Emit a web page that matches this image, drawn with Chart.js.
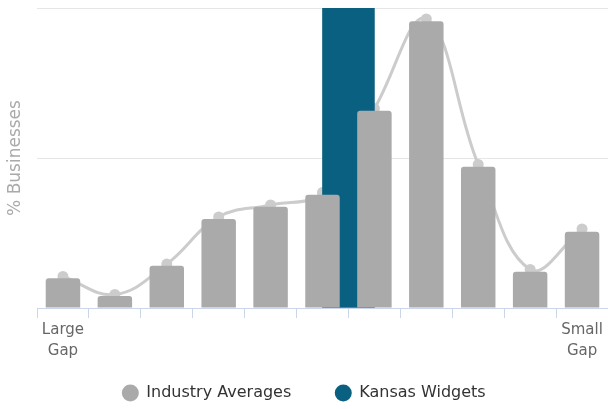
<!DOCTYPE html>
<html>
<head>
<meta charset="utf-8">
<script src="https://cdn.jsdelivr.net/npm/chart.js@4/dist/chart.umd.min.js"></script>
<style>
  html, body { margin: 0; padding: 0; background: #fff; }
  #wrap { width: 608px; height: 409px; }
</style>
</head>
<body>
<div id="wrap"><canvas id="myChart"></canvas></div>
<script>
// categories run from a large gap to a small gap
var gapLabels = [["Large", "Gap"], "", "", "", "", "", "", "", "", "", ["Small", "Gap"]];
var industryBars = [1.98, 0.80, 2.82, 5.93, 6.75, 7.55, 13.15, 19.11, 9.42, 2.42, 5.09];
var industryCurve = [2.1, 0.9, 2.93, 6.07, 6.87, 7.7, 13.3, 19.27, 9.57, 2.57, 5.27];
// kansas sits on a category boundary (slot 6 of the 12 boundaries)
var kansasWidgets = [null, null, null, null, null, null, 20, null, null, null, null, null];
var yMax = 20;
var yStep = 10;

// hidden axis whose slots are the category boundaries
var boundarySlots = kansasWidgets.map(function () { return ""; });

Chart.defaults.font.family = "'DejaVu Sans', Verdana, sans-serif";
Chart.defaults.animation = false;

// legend needs wide gaps between items but must sit close under the axis
var legendLift = 23;
var liftLegend = {
    id: "liftLegend",
    afterLayout: function (chart) {
        chart.legend.top -= legendLift;
        chart.legend.bottom -= legendLift;
    }
};

var ctx = document.getElementById("myChart").getContext("2d");
var chart = new Chart(ctx, {
    type: "bar",
    data: {
        labels: gapLabels,
        datasets: [
            {
                label: "Industry Averages",
                data: industryBars,
                backgroundColor: "#aaaaaa",
                borderRadius: 3,
                borderSkipped: "bottom",
                grouped: false,
                categoryPercentage: 0.8,
                barPercentage: 0.83,
                xAxisID: "x",
                order: 1
            },
            {
                label: "Kansas Widgets",
                data: kansasWidgets,
                backgroundColor: "#0a6080",
                grouped: false,
                categoryPercentage: 1,
                barPercentage: 1,
                xAxisID: "x2",
                order: 2
            },
            {
                type: "line",
                label: "curve",
                data: industryCurve,
                borderColor: "#cccccc",
                borderWidth: 3,
                backgroundColor: "#cccccc",
                pointRadius: 5.5,
                pointBorderWidth: 0,
                tension: 0.4,
                xAxisID: "x",
                order: 3
            }
        ]
    },
    plugins: [liftLegend],
    options: {
        responsive: true,
        maintainAspectRatio: false,
        layout: {
            autoPadding: false,
            padding: { top: 8, right: 0, left: 0, bottom: -25 }
        },
        plugins: {
            tooltip: { enabled: false },
            legend: {
                position: "bottom",
                labels: {
                    filter: function (item) { return item.datasetIndex < 2; },
                    usePointStyle: true,
                    pointStyle: "circle",
                    boxWidth: 16,
                    boxHeight: 12,
                    padding: 44,
                    color: "#333333",
                    font: { size: 16 }
                }
            }
        },
        scales: {
            x: {
                type: "category",
                offset: true,
                grid: {
                    offset: true,
                    drawOnChartArea: false,
                    drawTicks: true,
                    tickLength: 10,
                    color: "#ccd6eb"
                },
                border: { display: true, color: "#ccd6eb", width: 1 },
                ticks: {
                    color: "#666666",
                    font: { size: 15, lineHeight: 1.4 },
                    padding: 2,
                    maxRotation: 0,
                    autoSkip: false
                },
                afterFit: function (scale) { scale.height = 56; }
            },
            x2: {
                type: "category",
                labels: boundarySlots,
                offset: false,
                display: false
            },
            y: {
                min: 0,
                max: yMax,
                ticks: { display: false, stepSize: yStep },
                grid: { color: "#e6e6e6", drawTicks: false },
                border: { display: false },
                title: {
                    display: true,
                    text: "% Businesses",
                    color: "#aaaaaa",
                    font: { size: 17 },
                    padding: { top: 5, bottom: 0 }
                },
                afterFit: function (scale) { scale.width = 37; }
            }
        }
    }
});
</script>
</body>
</html>
